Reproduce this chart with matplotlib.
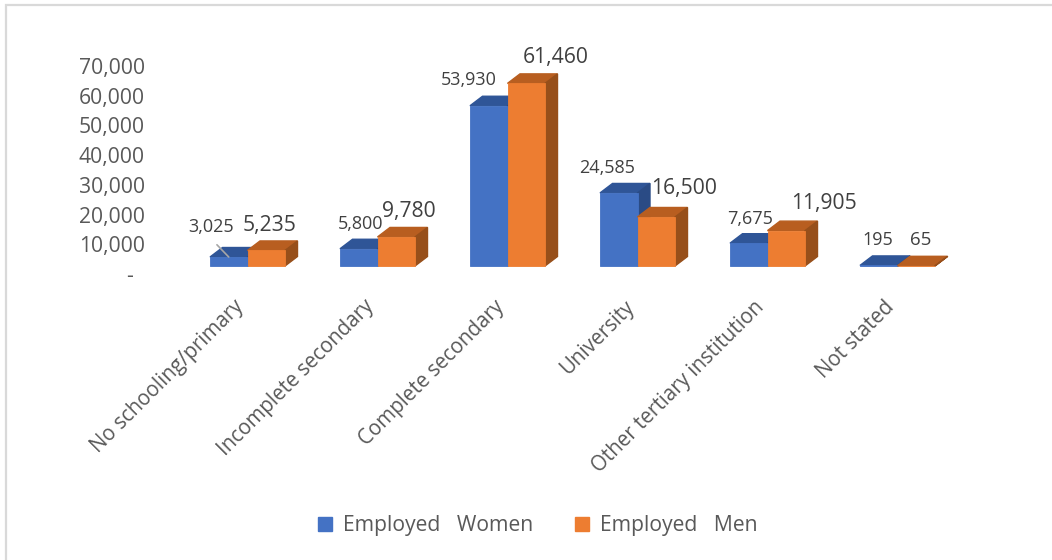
import matplotlib
matplotlib.use("Agg")
import matplotlib.pyplot as plt
from matplotlib.patches import Patch, Polygon, Rectangle
from matplotlib.ticker import FuncFormatter
from matplotlib.transforms import ScaledTranslation

categories = ["No schooling/primary", "Incomplete secondary", "Complete secondary",
              "University", "Other tertiary institution", "Not stated"]
women = [3025, 5800, 53930, 24585, 7675, 195]
men = [5235, 9780, 61460, 16500, 11905, 65]
y_ticks = [0, 10000, 20000, 30000, 40000, 50000, 60000, 70000]

W, H = 1052, 560
FONT = "Open Sans"
GREY = "#595959"
LABEL = "#404040"

# label offsets from the top centre of each bar, in pixels
women_off = [(-18, 30), (2, 25), (-20, 26), (-12, 25), (1, 24), (-1, 25)]
men_off = [(3, 25), (13, 25), (29, 26), (28, 28), (38, 27), (4, 26)]
women_size = [13] * 6
men_size = [15.2, 15.2, 15.2, 15.2, 15.2, 13.5]

fig = plt.figure(figsize=(W / 100, H / 100), dpi=100)
ax = fig.add_axes([182.5 / W, 1 - 266 / H, 780 / W, 208 / H])
ax.set_xlim(-0.5, 5.5)
ax.set_ylim(0, 70000)

# chart frame, only top and left show in the picture
fig.add_artist(Rectangle((6 / W, -0.1), 1.2, 1.1 - 4.5 / H, transform=fig.transFigure,
                         fill=False, edgecolor="#D9D9D9", linewidth=1.6))

bar_w = 37.5 / 130
dep_x = 12.5 / 130
dep_y = 9.5 * 70000 / 208


def draw_bar(x, value, front, top, side, z):
    ax.bar(x, value, bar_w, color=front, edgecolor=front, linewidth=0.6, zorder=z + 0.5, clip_on=False)
    l, r = x - bar_w / 2, x + bar_w / 2
    ax.add_patch(Polygon([(l, value), (r, value), (r + dep_x, value + dep_y), (l + dep_x, value + dep_y)],
                         color=top, zorder=z, clip_on=False))
    ax.add_patch(Polygon([(r, 0), (r + dep_x, dep_y), (r + dep_x, value + dep_y), (r, value)],
                         color=side, zorder=z, clip_on=False))


def put_label(x, value, off, size, leader=False):
    props = None
    if leader:
        props = dict(arrowstyle="-", color="#A6A6A6", lw=1.2, shrinkA=6, shrinkB=0, relpos=(0.45, 0))
    ax.annotate(f"{value:,}", (x, value), xytext=(off[0] * 0.72, off[1] * 0.72), textcoords="offset points",
                ha="center", va="center", fontsize=size, color=LABEL, family=FONT,
                arrowprops=props, annotation_clip=False, zorder=10)


for i in range(len(categories)):
    draw_bar(i - bar_w / 2, women[i], "#4472C4", "#2F5597", "#2A4B85", 3)
    draw_bar(i + bar_w / 2, men[i], "#ED7D31", "#B85E20", "#974F1A", 4)
    put_label(i - bar_w / 2, women[i], women_off[i], women_size[i], leader=i == 0)
    put_label(i + bar_w / 2, men[i], men_off[i], men_size[i])

for s in ax.spines.values():
    s.set_visible(False)
ax.set_yticks(y_ticks)
ax.yaxis.set_major_formatter(FuncFormatter(lambda v, p: "-" if v == 0 else f"{v:,.0f}"))
ax.set_xticks(range(len(categories)))
ax.set_xticklabels(categories, rotation=45, ha="right", rotation_mode="anchor")
ax.tick_params(axis="both", length=0, colors=GREY)
ax.tick_params(axis="y", labelsize=15.2, pad=27)
ax.tick_params(axis="x", labelsize=14.8, pad=24)
# axis labels sit on the back wall of the 3D plot, a bit below the bar fronts
shift = ScaledTranslation(0, -8 / 100, fig.dpi_scale_trans)
shift_dash = ScaledTranslation(-12 / 100, -8 / 100, fig.dpi_scale_trans)
for v, lab in zip(y_ticks, ax.get_yticklabels()):
    lab.set_transform(lab.get_transform() + (shift_dash if v == 0 else shift))
    lab.set_family(FONT)
shift_x = ScaledTranslation(-14 / 100, 3 / 100, fig.dpi_scale_trans)
for lab in ax.get_xticklabels():
    lab.set_transform(lab.get_transform() + shift_x)
    lab.set_family(FONT)

handles = [Patch(color="#4472C4", label="Employed   Women"), Patch(color="#ED7D31", label="Employed   Men")]
fig.legend(handles=handles, loc="center", bbox_to_anchor=(538 / W, 1 - 526 / H), ncol=2, frameon=False,
           prop={"family": FONT, "size": 15.2}, labelcolor=GREY, handlelength=0.66, handleheight=0.66,
           handletextpad=0.5, columnspacing=2.0)

fig.savefig("out.png", dpi=100)
